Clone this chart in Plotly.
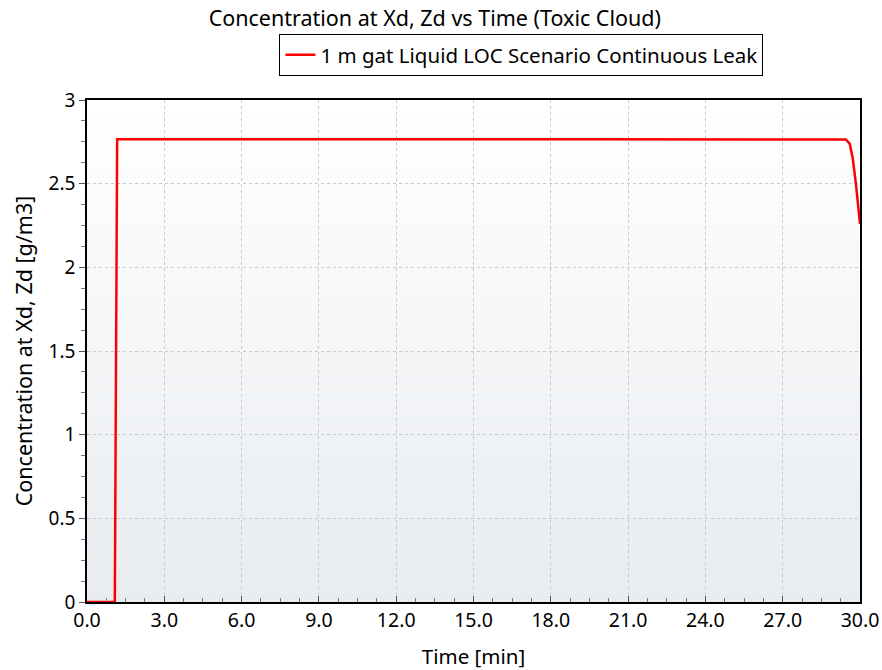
import plotly.graph_objects as go

# Concentration time history at the receptor point (Xd, Zd)
time_min = [0.0, 1.08, 1.17, 5.0, 10.0, 15.0, 20.0, 25.0, 29.45, 29.6, 29.72, 29.84, 29.97, 30.0]
conc_gm3 = [0.0, 0.0, 2.765, 2.766, 2.766, 2.765, 2.765, 2.764, 2.764, 2.74, 2.65, 2.50, 2.29, 2.26]

series_name = "1 m gat Liquid LOC Scenario Continuous Leak"
x_ticks = [0, 3, 6, 9, 12, 15, 18, 21, 24, 27, 30]
y_ticks = [0, 0.5, 1, 1.5, 2, 2.5, 3]

FONT = "Segoe UI, Noto Sans, Open Sans, sans-serif"

fig = go.Figure()
fig.add_trace(go.Scatter(
    x=time_min, y=conc_gm3, mode="lines", name=series_name,
    line=dict(color="#ff0000", width=2.5),
))

# vertical background gradient: white at the top to a pale blue-grey at the bottom
n_bands = 60
top = (255, 255, 255)
bot = (232, 236, 240)
for i in range(n_bands):
    f = (i + 0.5) / n_bands
    c = tuple(round(top[k] + (bot[k] - top[k]) * f) for k in range(3))
    fig.add_shape(
        type="rect", xref="x domain", yref="y domain",
        x0=0, x1=1, y0=1 - (i + 1) / n_bands, y1=1 - i / n_bands + 0.001,
        fillcolor="rgb(%d,%d,%d)" % c, line=dict(width=0), layer="below",
    )

fig.update_layout(
    width=882, height=670,
    margin=dict(l=87, r=22, t=100, b=68, autoexpand=False),
    paper_bgcolor="white", plot_bgcolor="rgba(0,0,0,0)",
    font=dict(family=FONT, size=18, color="#000000"),
    title=dict(text="Concentration at Xd, Zd vs Time (Toxic Cloud)",
               x=0.493, xanchor="center", y=0.973, yanchor="middle",
               font=dict(size=21.5)),
    showlegend=True,
    legend=dict(x=0.562, xanchor="center", y=1.09, yanchor="middle",
                orientation="h", bordercolor="#000000", borderwidth=1,
                bgcolor="white", font=dict(size=20.5)),
)

fig.update_xaxes(
    range=[0, 30], tickvals=x_ticks, ticktext=["%.1f" % v for v in x_ticks],
    tickfont=dict(size=19.5),
    title=dict(text="Time [min]", standoff=17, font=dict(size=20.5)),
    automargin=False,
    showline=True, linecolor="#000000", linewidth=1.5, mirror=True,
    ticks="inside", ticklen=6, tickcolor="#555555",
    showgrid=True, gridcolor="#c8c8c8", gridwidth=1, griddash="dot",
    zeroline=False,
    minor=dict(dtick=0.75, ticks="inside", ticklen=4, tickcolor="#777777", showgrid=False),
)
fig.update_yaxes(
    range=[0, 3], tickvals=y_ticks, ticktext=["%g" % v for v in y_ticks],
    tickfont=dict(size=19),
    title=dict(text="Concentration at Xd, Zd [g/m3]", standoff=10, font=dict(size=21.5)),
    automargin=False,
    showline=True, linecolor="#000000", linewidth=1.5, mirror=True,
    ticks="outside", ticklen=6, tickcolor="#555555",
    showgrid=True, gridcolor="#c8c8c8", gridwidth=1, griddash="dot",
    zeroline=False,
    minor=dict(dtick=0.125, ticks="outside", ticklen=4, tickcolor="#777777", showgrid=False),
)

fig.write_html("out.html")
